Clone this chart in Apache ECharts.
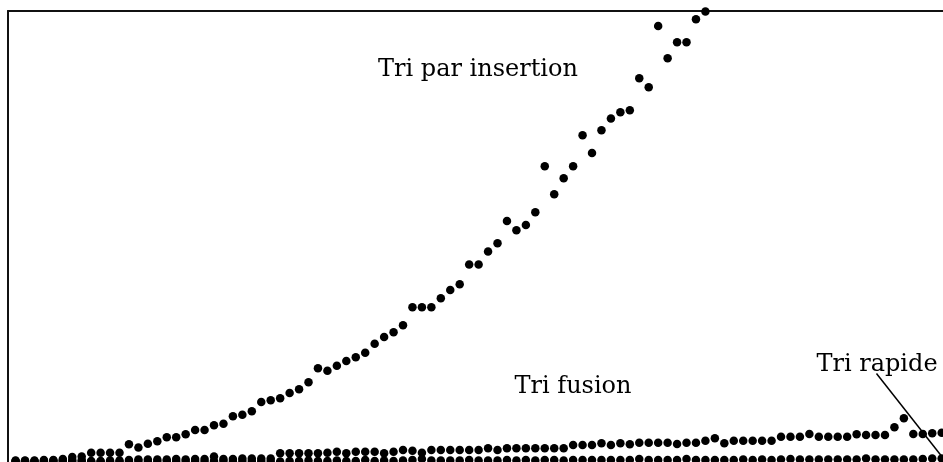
<!DOCTYPE html>
<html>
<head>
<meta charset="utf-8">
<script src="https://cdn.jsdelivr.net/npm/echarts@6/dist/echarts.min.js"></script>
<style>
  html, body { margin: 0; padding: 0; background: #fff; }
  #chart { width: 943px; height: 462px; }
</style>
</head>
<body>
<div id="chart"></div>
<script>
const insertionTimes = [
  0.095, 0.095, 0.095, 0.10, 0.10, 0.11, 0.13, 0.135, 0.173, 0.173,
  0.173, 0.173, 0.257, 0.225, 0.263, 0.287, 0.327, 0.327, 0.357, 0.40,
  0.40, 0.447, 0.463, 0.537, 0.553, 0.587, 0.68, 0.697, 0.717, 0.77,
  0.807, 0.877, 1.017, 0.993, 1.043, 1.09, 1.127, 1.173, 1.263, 1.33,
  1.377, 1.447, 1.627, 1.627, 1.627, 1.717, 1.80, 1.858, 2.055, 2.055,
  2.185, 2.267, 2.49, 2.397, 2.45, 2.577, 3.037, 2.757, 2.917, 3.037,
  3.347, 3.17, 3.397, 3.515, 3.577, 3.598, 3.917, 3.827, 4.44, 4.117,
  4.277, 4.277, 4.507, 4.585
];

const fusionTimes = [
  0.09, 0.09, 0.09, 0.09, 0.095, 0.095, 0.10, 0.10, 0.09, 0.09,
  0.095, 0.095, 0.10, 0.105, 0.105, 0.105, 0.105, 0.11, 0.105, 0.11,
  0.11, 0.135, 0.11, 0.11, 0.115, 0.115, 0.115, 0.115, 0.167, 0.167,
  0.167, 0.167, 0.167, 0.173, 0.183, 0.167, 0.183, 0.183, 0.183, 0.167,
  0.183, 0.20, 0.193, 0.173, 0.20, 0.20, 0.20, 0.20, 0.20, 0.20,
  0.217, 0.20, 0.217, 0.217, 0.217, 0.217, 0.217, 0.217, 0.217, 0.25,
  0.25, 0.25, 0.267, 0.25, 0.267, 0.257, 0.273, 0.273, 0.273, 0.273,
  0.26, 0.273, 0.273, 0.293, 0.317, 0.267, 0.293, 0.293, 0.293, 0.293,
  0.293, 0.333, 0.333, 0.333, 0.36, 0.333, 0.333, 0.333, 0.333, 0.357,
  0.35, 0.35, 0.35, 0.427, 0.517, 0.36, 0.36, 0.367, 0.373, 0.37
];

const rapideTimes = [
  0.085, 0.085, 0.085, 0.085, 0.085, 0.09, 0.085, 0.085, 0.085, 0.085,
  0.085, 0.085, 0.085, 0.09, 0.085, 0.085, 0.09, 0.085, 0.085, 0.09,
  0.085, 0.09, 0.09, 0.085, 0.09, 0.09, 0.09, 0.09, 0.085, 0.09,
  0.09, 0.095, 0.09, 0.09, 0.095, 0.09, 0.09, 0.10, 0.09, 0.095,
  0.09, 0.095, 0.10, 0.11, 0.095, 0.095, 0.095, 0.095, 0.10, 0.095,
  0.095, 0.095, 0.10, 0.095, 0.10, 0.095, 0.10, 0.10, 0.095, 0.10,
  0.10, 0.10, 0.10, 0.10, 0.10, 0.10, 0.11, 0.10, 0.10, 0.10,
  0.10, 0.11, 0.10, 0.10, 0.10, 0.10, 0.10, 0.105, 0.10, 0.105,
  0.10, 0.105, 0.11, 0.105, 0.105, 0.105, 0.105, 0.105, 0.105, 0.105,
  0.115, 0.105, 0.105, 0.105, 0.105, 0.105, 0.11, 0.115, 0.115, 0.11
];

const labels = [
  { text: "Tri par insertion", x: 478, y: 70 },
  { text: "Tri fusion", x: 573, y: 387 },
  { text: "Tri rapide", x: 877, y: 365 }
];

// trait qui relie l'étiquette "Tri rapide" à sa série (coordonnées de données)
const rapidePointer = [[92.1, 0.965], [99.1, 0.125]];

function toPoints(times) {
  return times.map((t, i) => [i + 1, t]);
}

const chart = echarts.init(document.getElementById("chart"), null, { renderer: "canvas" });

const dotStyle = { color: "#000", opacity: 1 };
const serifFont = "'DejaVu Serif', 'Liberation Serif', serif";
const frameLine = { show: true, onZero: false, lineStyle: { color: "#111", width: 2 } };

chart.setOption({
  animation: false,
  grid: { left: 8, top: 11, right: 0, bottom: 0 },
  xAxis: {
    type: "value",
    position: "top",
    min: 0.2,
    max: 99.14,
    axisLine: frameLine,
    axisTick: { show: false },
    axisLabel: { show: false },
    splitLine: { show: false }
  },
  yAxis: {
    type: "value",
    min: 0.08,
    max: 4.59,
    axisLine: frameLine,
    axisTick: { show: false },
    axisLabel: { show: false },
    splitLine: { show: false }
  },
  series: [
    {
      name: "Tri rapide",
      type: "scatter",
      clip: false,
      symbolSize: 8.5,
      itemStyle: dotStyle,
      data: toPoints(rapideTimes),
      markLine: {
        silent: true,
        symbol: ["none", "none"],
        label: { show: false },
        lineStyle: { color: "#000", width: 1.5, type: "solid", opacity: 1 },
        data: [[{ coord: rapidePointer[0] }, { coord: rapidePointer[1] }]]
      }
    },
    {
      name: "Tri fusion",
      type: "scatter",
      clip: false,
      symbolSize: 8.5,
      itemStyle: dotStyle,
      data: toPoints(fusionTimes)
    },
    {
      name: "Tri par insertion",
      type: "scatter",
      symbolSize: 8.5,
      itemStyle: dotStyle,
      data: toPoints(insertionTimes)
    }
  ],
  graphic: labels.map((l) => ({
    type: "text",
    x: l.x,
    y: l.y,
    z: 100,
    style: {
      text: l.text,
      fill: "#000",
      font: "24px " + serifFont,
      align: "center",
      verticalAlign: "middle"
    }
  }))
});
</script>
</body>
</html>
